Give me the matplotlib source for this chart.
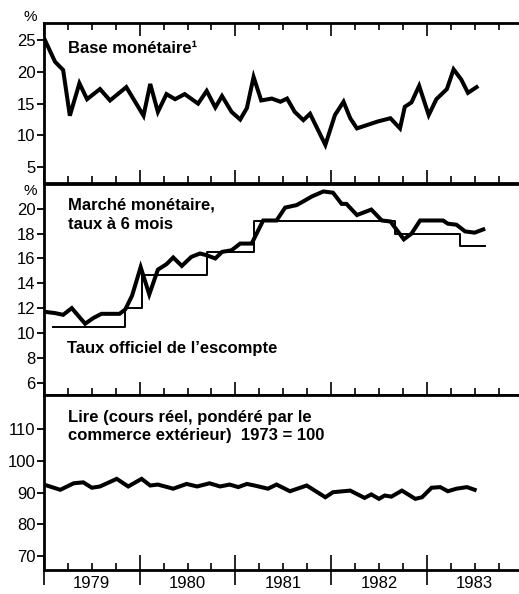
import matplotlib
matplotlib.use("Agg")
import matplotlib.pyplot as plt
import numpy as np

plt.rcParams['font.family'] = ['Liberation Sans', 'DejaVu Sans']

# ---------------- data (decimal years) ----------------
base_years = [1979.01, 1979.115, 1979.20, 1979.27, 1979.37, 1979.45, 1979.585, 1979.69,
              1979.86, 1980.04, 1980.11, 1980.19, 1980.28, 1980.37, 1980.47, 1980.61,
              1980.70, 1980.79, 1980.86, 1980.96, 1981.05, 1981.12, 1981.19, 1981.27,
              1981.38, 1981.47, 1981.54, 1981.62, 1981.71, 1981.78, 1981.94, 1982.04,
              1982.13, 1982.20, 1982.27, 1982.49, 1982.62, 1982.72, 1982.77, 1982.84,
              1982.92, 1983.02, 1983.10, 1983.21, 1983.28, 1983.36, 1983.43, 1983.52]
base_values = [25.0, 21.6, 20.3, 13.1, 18.2, 15.7, 17.3, 15.5,
               17.6, 13.1, 18.1, 13.7, 16.5, 15.7, 16.5, 15.0,
               17.0, 14.4, 16.2, 13.7, 12.5, 14.3, 19.2, 15.5,
               15.8, 15.3, 15.8, 13.7, 12.4, 13.4, 8.5, 13.2,
               15.3, 12.7, 11.1, 12.2, 12.7, 11.1, 14.5, 15.2,
               17.8, 13.2, 15.7, 17.3, 20.4, 18.8, 16.7, 17.6]

mm_years = [1979.01, 1979.115, 1979.20, 1979.29, 1979.43, 1979.515, 1979.60, 1979.79,
            1979.85, 1979.92, 1980.01, 1980.10, 1980.19, 1980.28, 1980.35, 1980.44,
            1980.54, 1980.63, 1980.70, 1980.79, 1980.86, 1980.96, 1981.05, 1981.17,
            1981.29, 1981.43, 1981.52, 1981.64, 1981.71, 1981.80, 1981.92, 1982.02,
            1982.11, 1982.16, 1982.27, 1982.42, 1982.53, 1982.62, 1982.69, 1982.76,
            1982.84, 1982.93, 1983.17, 1983.22, 1983.31, 1983.40, 1983.50, 1983.59]
mm_values = [11.7, 11.6, 11.46, 12.0, 10.74, 11.2, 11.54, 11.54,
             11.9, 13.0, 15.3, 13.1, 15.1, 15.54, 16.08, 15.4,
             16.13, 16.4, 16.26, 16.0, 16.53, 16.66, 17.2, 17.2,
             19.06, 19.06, 20.1, 20.3, 20.6, 21.0, 21.4, 21.3,
             20.4, 20.4, 19.5, 19.94, 19.06, 18.98, 18.26, 17.54,
             18.0, 19.06, 19.06, 18.8, 18.72, 18.18, 18.08, 18.34]

disc_years = [1979.09, 1979.85, 1980.02, 1980.70, 1981.19, 1982.67, 1983.35, 1983.61]
disc_values = [10.5, 12.0, 14.7, 16.5, 19.0, 18.0, 17.0, 17.0]

lira_years = [1979.03, 1979.17, 1979.31, 1979.41, 1979.50, 1979.585, 1979.76, 1979.88,
              1980.02, 1980.11, 1980.19, 1980.35, 1980.49, 1980.60, 1980.73, 1980.84,
              1980.94, 1981.03, 1981.12, 1981.20, 1981.34, 1981.43, 1981.57, 1981.745,
              1981.94, 1982.02, 1982.20, 1982.35, 1982.42, 1982.50, 1982.56, 1982.63,
              1982.74, 1982.88, 1982.95, 1983.05, 1983.14, 1983.22, 1983.31, 1983.42,
              1983.50]
lira_values = [92.2, 90.85, 92.9, 93.2, 91.5, 91.9, 94.3, 91.9,
               94.3, 92.2, 92.5, 91.2, 92.7, 91.9, 92.9, 91.9,
               92.5, 91.7, 92.7, 92.2, 91.2, 92.5, 90.4, 92.2,
               88.5, 90.1, 90.6, 88.3, 89.4, 88.0, 89.05, 88.7,
               90.6, 88.0, 88.5, 91.5, 91.7, 90.4, 91.2, 91.7,
               90.85]

year_labels = ['1979', '1980', '1981', '1982', '1983']
top_ticks = [5, 10, 15, 20, 25]
mid_ticks = [6, 8, 10, 12, 14, 16, 18, 20]
bot_ticks = [70, 80, 90, 100, 110]

# ---------------- layout ----------------
W, H = 519, 594
fig = plt.figure(figsize=(W / 100, H / 100), dpi=100)

left = 44 / W
width = 475 / W
xlim = (1979.0, 1979.0 + 475 / 95.7)


def axes_px(top, bottom):
    return fig.add_axes([left, 1 - bottom / H, width, (bottom - top) / H])


ax1 = axes_px(23, 183)
ax2 = axes_px(184, 395)
ax3 = axes_px(395, 570)

years = [1979, 1980, 1981, 1982, 1983]
quarters = [y + q / 4 for y in range(1979, 1984) for q in (1, 2, 3)]

LW_SPINE = 2.0
TICK_FS = 12
LABEL_FS = 12
for ax in (ax1, ax2, ax3):
    ax.set_xlim(*xlim)
    ax.spines['right'].set_visible(False)
    for s in ('left', 'top', 'bottom'):
        ax.spines[s].set_linewidth(LW_SPINE)
    ax.set_xticks(years)
    ax.set_xticks(quarters, minor=True)
    ax.tick_params(axis='x', which='major', direction='in', length=9.5, width=1.2,
                   labelbottom=False)
    ax.tick_params(axis='x', which='minor', direction='in', length=5, width=1.2,
                   labelbottom=False)
    ax.tick_params(axis='y', which='major', direction='out', length=5, width=1.3,
                   labelsize=TICK_FS, pad=1)
    ax.set_facecolor('white')

ax1.tick_params(axis='x', which='both', top=True, bottom=True)
ax2.tick_params(axis='x', which='both', top=False, bottom=True)
ax3.tick_params(axis='x', which='both', top=False, bottom=True)
ax3.tick_params(axis='x', which='major', direction='inout', length=22)
# year labels in the middle of each year
ax3.set_xticks(quarters, minor=True,
               labels=[year_labels[i // 3] if i % 3 == 1 else '' for i in range(len(quarters))])
ax3.tick_params(axis='x', which='minor', labelbottom=True, labelsize=TICK_FS, pad=4)

# ---------------- panel 1 ----------------
ax1.plot(base_years, base_values, color='black', lw=2.9, solid_joinstyle='miter')
ax1.set_ylim(2.5, 27.7)
ax1.set_yticks(top_ticks)
ax1.text((68 - 44) / 475, 0.81, 'Base monétaire¹', transform=ax1.transAxes,
         fontsize=LABEL_FS, fontweight='bold', va='baseline', ha='left')

# ---------------- panel 2 ----------------
ax2.plot(disc_years, disc_values, color='black', lw=1.4, drawstyle='steps-post')
ax2.plot(mm_years, mm_values, color='black', lw=2.9, solid_joinstyle='miter')
ax2.set_ylim(5.0, 22.0)
ax2.set_yticks(mid_ticks)
ax2.text((68 - 44) / 475, 0.877, 'Marché monétaire,', transform=ax2.transAxes,
         fontsize=LABEL_FS, fontweight='bold', va='baseline', ha='left')
ax2.text((68 - 44) / 475, 0.785, 'taux à 6 mois', transform=ax2.transAxes,
         fontsize=LABEL_FS, fontweight='bold', va='baseline', ha='left')
ax2.text((67 - 44) / 475, 0.199, 'Taux officiel de l\u2019escompte', transform=ax2.transAxes,
         fontsize=LABEL_FS, fontweight='bold', va='baseline', ha='left')

# ---------------- panel 3 ----------------
ax3.plot(lira_years, lira_values, color='black', lw=2.9, solid_joinstyle='miter')
ax3.set_ylim(65.6, 120.7)
ax3.set_yticks(bot_ticks)
ax3.text((68 - 44) / 475, 0.846, 'Lire (cours réel, pondéré par le', transform=ax3.transAxes,
         fontsize=LABEL_FS, fontweight='bold', va='baseline', ha='left')
ax3.text((68 - 44) / 475, 0.743, 'commerce extérieur)  1973 = 100', transform=ax3.transAxes,
         fontsize=LABEL_FS, fontweight='bold', va='baseline', ha='left')

# % unit labels
fig.text(30 / W, 1 - 21 / H, '%', fontsize=11, ha='center', va='baseline')
fig.text(30 / W, 1 - 195 / H, '%', fontsize=11, ha='center', va='baseline')

fig.savefig('out.png', dpi=100, facecolor='white')
